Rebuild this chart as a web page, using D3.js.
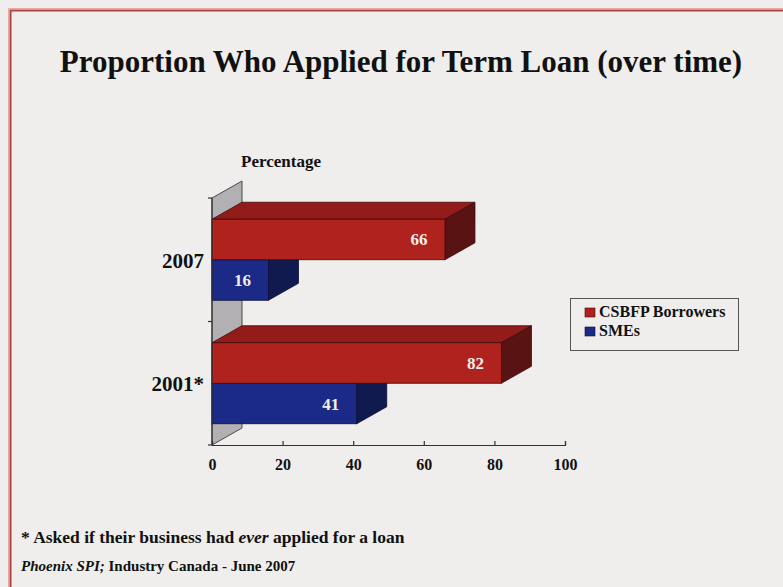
<!DOCTYPE html>
<html>
<head>
<meta charset="utf-8">
<script src="https://cdn.jsdelivr.net/npm/d3@7"></script>
<style>
  html, body { margin: 0; padding: 0; background: #efeeec; }
  svg { display: block; }
  text { font-family: "Liberation Serif", "Times New Roman", serif; font-weight: bold; }
</style>
</head>
<body>
<svg id="chart" width="783" height="587"></svg>
<script>
// Survey waves, top to bottom
const categories = ["2007", "2001*"];
// Series, in legend order
const seriesNames = ["CSBFP Borrowers", "SMEs"];
const csbfpValues = [66, 82];
const smeValues = [16, 41];
const xTicks = [0, 20, 40, 60, 80, 100];

const svg = d3.select("#chart");
const W = 783, H = 587;

// Slide frame
svg.append("rect").attr("x", 0).attr("y", 0).attr("width", W).attr("height", H).attr("fill", "#efeeec");
svg.append("path").attr("d", `M8.5,${H} V8.5 H${W}`).attr("fill", "none").attr("stroke", "#e9aaa3").attr("stroke-width", 1);
svg.append("path").attr("d", `M10.5,${H} V10.5 H${W}`).attr("fill", "none").attr("stroke", "#a8473f").attr("stroke-width", 2);

// Title
svg.append("text").attr("x", 401).attr("y", 72).attr("text-anchor", "middle")
  .attr("font-size", 31).attr("fill", "#111")
  .text("Proportion Who Applied for Term Loan (over time)");

// Plot geometry
const plotTop = 198, plotBottom = 445;
const x = d3.scaleLinear().domain([0, 100]).range([212, 565]);
const y = d3.scaleBand().domain(categories).range([plotTop, plotBottom]).paddingInner(0.344).paddingOuter(0.172);
const ySub = d3.scaleBand().domain(seriesNames).range([0, y.bandwidth()]);
const dx = 30, dy = -17; // depth offset of the 3-D effect

const series = [
  { name: seriesNames[0], values: csbfpValues, front: "#b0221e", top: "#931b19", side: "#5a1313", edge: "#3c0b0b" },
  { name: seriesNames[1], values: smeValues, front: "#1b2a86", top: "#15206a", side: "#101a4e", edge: "#0a0f33" }
];

// Back wall (side panel behind the category axis)
const x0 = x(0);
svg.append("polygon")
  .attr("points", [[x0, plotTop], [x0 + dx, plotTop + dy], [x0 + dx, plotBottom + dy], [x0, plotBottom]].map(p => p.join(",")).join(" "))
  .attr("fill", "#b2b0b2").attr("stroke", "#4a4a4a").attr("stroke-width", 1);

// Bars: draw the lower series first so the upper bar's front face sits over it
const barsG = svg.append("g");
categories.forEach((cat, ci) => {
  [1, 0].forEach(si => {
    const s = series[si];
    const v = s.values[ci];
    const yt = y(cat) + ySub(s.name);
    const h = ySub.bandwidth();
    const x1 = x(v);
    const g = barsG.append("g");
    g.append("polygon")
      .attr("points", [[x0, yt], [x0 + dx, yt + dy], [x1 + dx, yt + dy], [x1, yt]].map(p => p.join(",")).join(" "))
      .attr("fill", s.top).attr("stroke", s.edge).attr("stroke-width", 0.8);
    g.append("polygon")
      .attr("points", [[x1, yt], [x1 + dx, yt + dy], [x1 + dx, yt + h + dy], [x1, yt + h]].map(p => p.join(",")).join(" "))
      .attr("fill", s.side).attr("stroke", s.edge).attr("stroke-width", 0.8);
    g.append("rect")
      .attr("x", x0).attr("y", yt).attr("width", x1 - x0).attr("height", h)
      .attr("fill", s.front).attr("stroke", s.edge).attr("stroke-width", 0.8);
    g.append("text")
      .attr("x", x1 - 26).attr("y", yt + h / 2 + 6)
      .attr("text-anchor", "middle").attr("font-size", 17).attr("fill", "#f4efe9")
      .text(v);
  });
});

// Category axis
const yAxis = svg.append("g");
yAxis.append("line").attr("x1", x0).attr("x2", x0).attr("y1", plotTop).attr("y2", plotBottom)
  .attr("stroke", "#333").attr("stroke-width", 1.2);
[plotTop, (plotTop + plotBottom) / 2, plotBottom].forEach(t => {
  yAxis.append("line").attr("x1", x0 - 4).attr("x2", x0).attr("y1", t).attr("y2", t)
    .attr("stroke", "#333").attr("stroke-width", 1.2);
});
categories.forEach(cat => {
  yAxis.append("text").attr("x", 204).attr("y", y(cat) + y.bandwidth() / 2 + 8)
    .attr("text-anchor", "end").attr("font-size", 21).attr("fill", "#111").text(cat);
});

// Value axis
const xAxis = svg.append("g").attr("transform", `translate(0,${plotBottom})`)
  .call(d3.axisBottom(x).tickValues(xTicks).tickFormat(d3.format("d")).tickSize(-4).tickPadding(14));
xAxis.select(".domain").attr("stroke", "#333").attr("stroke-width", 1.2);
xAxis.selectAll(".tick line").attr("stroke", "#333").attr("stroke-width", 1.2);
xAxis.selectAll(".tick text").attr("font-size", 16).attr("fill", "#111")
  .attr("font-family", "'Liberation Serif', 'Times New Roman', serif").attr("font-weight", "bold");

// Axis caption
svg.append("text").attr("x", 281).attr("y", 167).attr("text-anchor", "middle")
  .attr("font-size", 17).attr("fill", "#111").text("Percentage");

// Legend
const lg = svg.append("g");
lg.append("rect").attr("x", 570.5).attr("y", 298.5).attr("width", 168).attr("height", 52)
  .attr("fill", "none").attr("stroke", "#555").attr("stroke-width", 1);
series.forEach((s, i) => {
  const ly = 317 + i * 19;
  lg.append("rect").attr("x", 585).attr("y", ly - 9).attr("width", 10).attr("height", 9)
    .attr("fill", s.front).attr("stroke", s.edge).attr("stroke-width", 0.6);
  lg.append("text").attr("x", 599).attr("y", ly).attr("font-size", 16).attr("fill", "#111").text(s.name);
});

// Footnotes
const fn = svg.append("text").attr("x", 21).attr("y", 543).attr("font-size", 17.5).attr("fill", "#111");
fn.append("tspan").text("* Asked if their business had ");
fn.append("tspan").attr("font-style", "italic").text("ever");
fn.append("tspan").text(" applied for a loan");

const src = svg.append("text").attr("x", 21).attr("y", 571).attr("font-size", 15).attr("fill", "#111");
src.append("tspan").attr("font-style", "italic").text("Phoenix SPI;");
src.append("tspan").text(" Industry Canada - June 2007");
</script>
</body>
</html>
